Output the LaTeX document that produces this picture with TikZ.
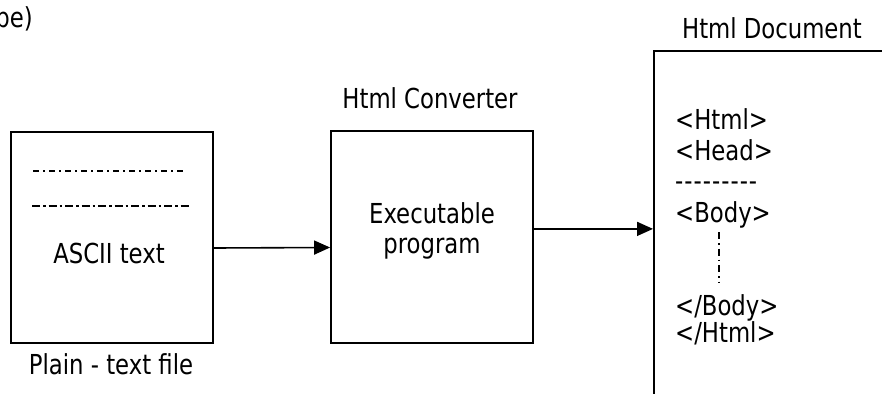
\documentclass[tikz,border=0pt]{standalone}
\usepackage{fontspec}
\setmainfont{DejaVu Sans Condensed}[FakeStretch=0.92]
\usetikzlibrary{arrows.meta}
\tikzset{
  lbl/.style={font=\fontsize{27.5}{30}\selectfont, inner sep=0pt},
  panel/.style={draw, line width=1.8pt, inner sep=0pt, minimum width=202pt, minimum height=211pt},
  flow/.style={line width=1.6pt, -{Triangle[length=16pt,width=14pt]}},
  dashdot/.style={line width=1.5pt, dash pattern=on 6pt off 4pt on 2pt off 4pt},
  dashdotbold/.style={line width=2.8pt, dash pattern=on 8pt off 3pt on 2.5pt off 3pt},
  vdashdot/.style={line width=1.6pt, dash pattern=on 7pt off 4pt on 1.5pt off 4pt},
}
% a hyphen followed by a kern, so runs of hyphens are not joined into dashes
\newcommand\hy{-\kern1pt}

\begin{document}
\begin{tikzpicture}[x=1pt,y=-1pt]
\useasboundingbox (0,0) rectangle (882,393);

% caption cut off at the top left
\node[lbl, anchor=base east] (cut) at (33,28) {pe)};

% plain text file
\node[panel] (src) at (112,237.5) {};
\draw[dashdot] (33,171) -- (183,171);
\draw[dashdotbold] (32,206) -- (189,206);
\node[lbl, anchor=base] (ascii) at (109,263) {ASCII text};
\node[lbl, anchor=base] (srccap) at (111,374) {Plain - text file};

% converter
\node[panel, minimum height=212pt] (conv) at (432,237) {};
\node[lbl, anchor=base] (convcap) at (430,108) {Html Converter};
\node[lbl, anchor=base] (exe) at (432,223) {Executable};
\node[lbl, anchor=base] (prog) at (432,253) {program};

% html document (runs past the right and bottom edges)
\node[draw, line width=1.8pt, inner sep=0pt, anchor=north west,
      minimum width=260pt, minimum height=356pt] (doc) at (653,50) {};
\node[lbl, anchor=base] (doccap) at (772,39) {Html Document};
\node[lbl, anchor=base west] (t1) at (675,129) {<Html>};
\node[lbl, anchor=base west] (t2) at (675,160) {<Head>};
\node[lbl, anchor=base west] (t3) at (675,190) {\hy\hy\hy\hy\hy\hy\hy\hy\hy};
\node[lbl, anchor=base west] (t4) at (675,222) {<Body>};
\node[lbl, anchor=base west] (t5) at (675,315) {</Body>};
\node[lbl, anchor=base west] (t6) at (675,342) {</Html>};
\draw[vdashdot] (719,232) -- (719,283);

% flow arrows
\draw[flow] ([yshift=-10.5pt]src.east) -- ([yshift=-10.5pt]conv.west);
\draw[flow] (conv.east |- doc.west) -- (doc.west);
\end{tikzpicture}
\end{document}
